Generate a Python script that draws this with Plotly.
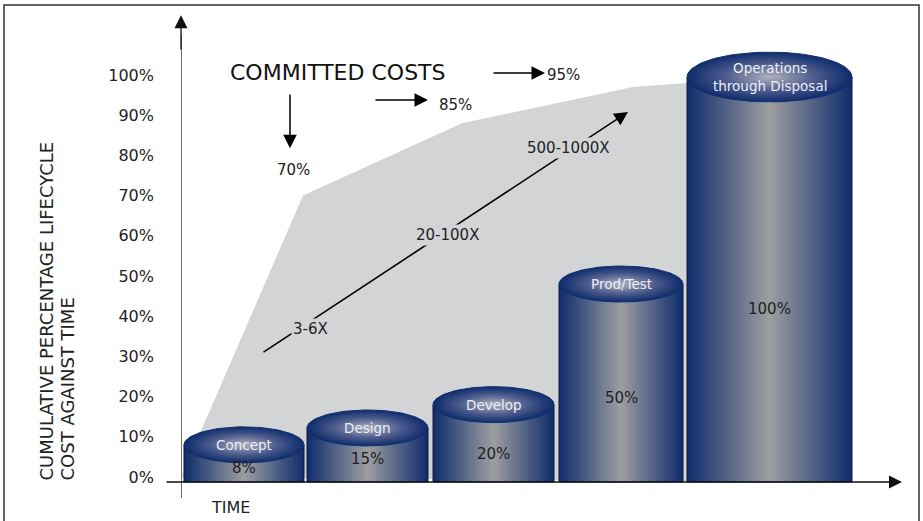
import numpy as np
import plotly.graph_objects as go

# ---------------- data ----------------
stages = ["Concept", "Design", "Develop", "Prod/Test", "Operations<br>through Disposal"]
cost_pct_labels = ["8%", "15%", "20%", "50%", "100%"]
cylinder_heights = [8, 12.2, 18, 48, 99.5]          # drawn cylinder heights (%)
committed_time = [0, 122, 281, 452, 506, 588, 588]   # time position along x
committed_pct = [0, 70, 88, 97, 98, 98.5, -1.24]     # committed cost (%)
y_ticks = [0, 10, 20, 30, 40, 50, 60, 70, 80, 90, 100]
y_tick_text = ["0%", "10%", "20%", "30%", "40%", "50%", "60%", "70%", "80%", "90%", "100%"]
multipliers = ["3-6X", "20-100X", "500-1000X"]
committed_marks = ["70%", "85%", "95%"]

# ---------------- style / layout constants ----------------
W, H = 923, 521
ML, MR = 181, 4
BASE = -1.24
BAR_WIDTHS = [120, 121, 121, 124, 165]
FIRST_OFFSET = 3
GAPS = [3, 5, 5, 4]
CAP_H = [4.48, 4.48, 4.48, 4.48, 6.2]
PCT_LABEL_Y = [2.2, 4.5, 5.7, 19.7, 41.8]
FONT = "DejaVu Sans"
GRAY = "#d3d4d6"
NAVY = "#0e2c6c"
BODY_SCALE = [[0, NAVY], [0.5, "#9e9ea1"], [1, NAVY]]
TOP_SCALE = [[0, "#aeb1bf"], [0.55, "#4d5b8c"], [1, NAVY]]
plot_w = W - ML - MR

fig = go.Figure()

# committed costs area
fig.add_trace(go.Scatter(x=committed_time, y=committed_pct, fill="toself",
                         fillcolor=GRAY, line=dict(width=0), mode="lines",
                         hoverinfo="skip"))

# cylinders
lefts = []
pos = FIRST_OFFSET
for i, w in enumerate(BAR_WIDTHS):
    lefts.append(pos)
    pos += w + (GAPS[i] if i < len(GAPS) else 0)

t = np.linspace(0, 2 * np.pi, 120)
annotations = []
for i, name in enumerate(stages):
    L = lefts[i]
    R = L + BAR_WIDTHS[i]
    cx = (L + R) / 2
    top = cylinder_heights[i]
    fig.add_trace(go.Scatter(x=[L, R, R, L, L], y=[BASE, BASE, top, top, BASE],
                             fill="toself", mode="lines",
                             line=dict(color="#15193a", width=1),
                             fillgradient=dict(type="horizontal", colorscale=BODY_SCALE),
                             hoverinfo="skip"))
    a = BAR_WIDTHS[i] / 2
    b = CAP_H[i]
    fig.add_trace(go.Scatter(x=cx + a * np.cos(t), y=top + b * np.sin(t),
                             fill="toself", mode="lines",
                             line=dict(color="#10306f", width=1),
                             fillgradient=dict(type="radial", colorscale=TOP_SCALE),
                             hoverinfo="skip"))
    annotations.append(dict(x=cx, y=top, text=name, showarrow=False,
                            font=dict(family=FONT, size=13.5, color="#eceef5")))
    annotations.append(dict(x=cx, y=PCT_LABEL_Y[i], text=cost_pct_labels[i], showarrow=False,
                            font=dict(family=FONT, size=15, color="#1e1e1e")))

def arrow(x0, y0, x1, y1, color="#000", width=1.5, size=1.8):
    return dict(x=x1, y=y1, ax=x0, ay=y0, xref="x", yref="y", axref="x", ayref="y",
                showarrow=True, arrowhead=2, arrowsize=size, arrowwidth=width,
                arrowcolor=color, text="")

# axes arrows
annotations.append(arrow(-16, BASE, 721, BASE, color="#111", width=1.3, size=2.0))
annotations.append(arrow(0, 106, 0, 114.9, color="#111", width=1.3, size=2.0))

# committed cost arrows & texts
annotations.append(dict(x=157, y=100.7, text="COMMITTED COSTS", showarrow=False,
                        font=dict(family=FONT, size=22, color="#111")))
annotations.append(arrow(109, 95.5, 109, 81.8))
annotations.append(arrow(193, 93.8, 247, 93.8))
annotations.append(arrow(311, 100.5, 364, 100.5))
for (x, y), txt in zip([(112, 76.4), (274, 92.5), (382, 100)], committed_marks):
    annotations.append(dict(x=x, y=y, text=txt, showarrow=False,
                            font=dict(family=FONT, size=15, color="#222")))

# diagonal multiplier arrow
annotations.append(arrow(81, 30.8, 447, 90.8, width=1.6, size=1.7))
for (x, y), txt in zip([(129, 36.8), (266, 60.2), (387, 81.8)], multipliers):
    annotations.append(dict(x=x, y=y, text=txt, showarrow=False, bgcolor=GRAY,
                            borderpad=1,
                            font=dict(family=FONT, size=15, color="#222")))

# axis titles
annotations.append(dict(x=49, y=-7.5, text="TIME", showarrow=False,
                        font=dict(family=FONT, size=16, color="#222")))
for px, txt in [(46, "CUMULATIVE PERCENTAGE LIFECYCLE"), (67, "COST AGAINST TIME")]:
    annotations.append(dict(x=(px - ML) / plot_w, y=1 - 483 / H, xref="paper", yref="paper",
                            text=txt, textangle=-90, showarrow=False,
                            yanchor="bottom", xanchor="center",
                            font=dict(family=FONT, size=18, color="#222")))

shapes = [
    # y axis line (gray)
    dict(type="line", xref="x", yref="y", x0=0, x1=0, y0=-5.2, y1=110,
         line=dict(color="#707070", width=2)),
    # outer frame
    dict(type="rect", xref="paper", yref="paper",
         x0=(4 - ML) / plot_w, x1=(919 - ML) / plot_w, y0=-0.1, y1=1 - 5 / H,
         line=dict(color="#333", width=1.5)),
]

fig.update_layout(
    width=W, height=H,
    margin=dict(l=ML, r=MR, t=0, b=0),
    paper_bgcolor="white", plot_bgcolor="white",
    showlegend=False,
    annotations=annotations,
    shapes=shapes,
    xaxis=dict(range=[0, plot_w], showgrid=False, zeroline=False, showline=False,
               showticklabels=False, ticks=""),
    yaxis=dict(range=[(477 - H) / 4.0197, 477 / 4.0197], showgrid=False, zeroline=False,
               showline=False, tickvals=y_ticks, ticktext=y_tick_text, ticks="",
               ticklabelstandoff=26,
               tickfont=dict(family=FONT, size=16, color="#222")),
)

fig.write_html("out.html")
